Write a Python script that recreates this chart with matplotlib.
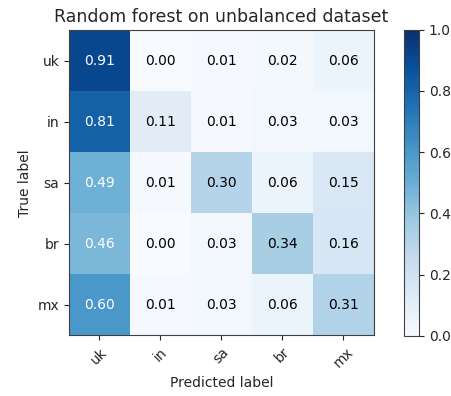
import numpy as np
from matplotlib import pyplot as plt

classes = ['uk', 'in', 'sa', 'br', 'mx']
cm = np.array([
    [0.91, 0.00, 0.01, 0.02, 0.06],
    [0.81, 0.11, 0.01, 0.03, 0.03],
    [0.49, 0.01, 0.30, 0.06, 0.15],
    [0.46, 0.00, 0.03, 0.34, 0.16],
    [0.60, 0.01, 0.03, 0.06, 0.31],
])

dark = '#262626'
plt.rcParams['text.color'] = dark
plt.rcParams['axes.edgecolor'] = '#404040'
plt.rcParams['xtick.color'] = dark
plt.rcParams['ytick.color'] = dark
plt.rcParams['axes.labelcolor'] = dark

fig = plt.figure(figsize=(4.51, 3.96), dpi=100)
ax = fig.add_axes([0.153, 0.152, 0.676, 0.773])
cax = fig.add_axes([0.896, 0.152, 0.033, 0.773])

im = ax.imshow(cm, interpolation='nearest', cmap=plt.cm.Blues, vmin=0, vmax=1)
ax.set_title('Random forest on unbalanced dataset', fontsize=12.5)
cb = fig.colorbar(im, cax=cax)
cb.set_ticks([0.0, 0.2, 0.4, 0.6, 0.8, 1.0])

ticks = np.arange(len(classes))
ax.set_xticks(ticks)
ax.set_xticklabels(classes, rotation=45)
ax.set_yticks(ticks)
ax.set_yticklabels(classes)

thresh = cm.max() / 2.
for i in range(cm.shape[0]):
    for j in range(cm.shape[1]):
        ax.text(j, i, format(cm[i, j], '.2f'),
                ha='center', va='center',
                color='white' if cm[i, j] > thresh else 'black')

ax.set_ylabel('True label')
ax.set_xlabel('Predicted label')

fig.savefig('out.png', dpi=100)
